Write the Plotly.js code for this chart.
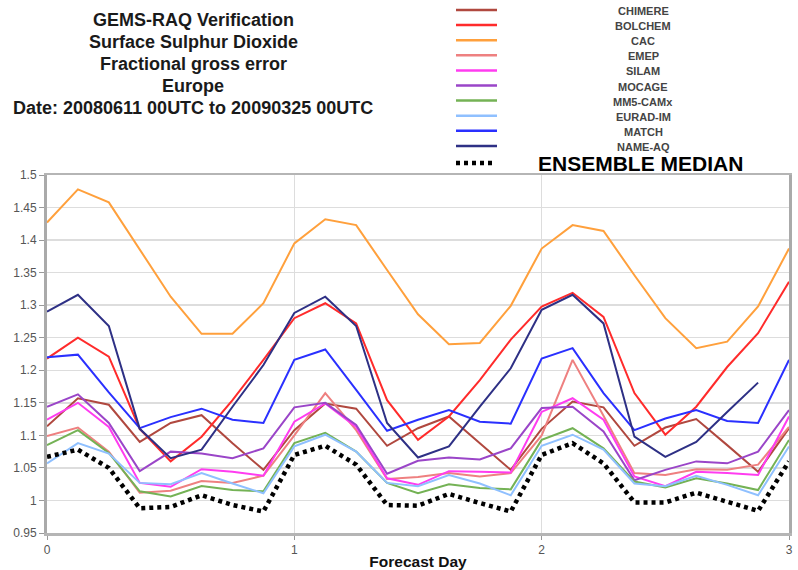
<!DOCTYPE html>
<html>
<head>
<meta charset="utf-8">
<script src="https://cdn.plot.ly/plotly-3.0.1.min.js"></script>
<style>
  html, body { margin: 0; padding: 0; background: #ffffff; }
  #chart { width: 798px; height: 570px; }
</style>
</head>
<body>
<div id="chart"></div>
<script>
// Forecast lead time in days (3-hourly steps)
const forecastDay = [0, 0.125, 0.25, 0.375, 0.5, 0.625, 0.75, 0.875,
                     1, 1.125, 1.25, 1.375, 1.5, 1.625, 1.75, 1.875,
                     2, 2.125, 2.25, 2.375, 2.5, 2.625, 2.75, 2.875, 3];

// Fractional gross error per model
const chimere = [1.114, 1.157, 1.147, 1.090, 1.119, 1.131, 1.088, 1.047,
                 1.108, 1.149, 1.141, 1.084, 1.111, 1.129, 1.088, 1.047,
                 1.110, 1.152, 1.143, 1.084, 1.112, 1.125, 1.085, 1.044, 1.111];
const bolchem = [1.218, 1.250, 1.221, 1.110, 1.060, 1.098, 1.154, 1.216,
                 1.280, 1.303, 1.272, 1.154, 1.093, 1.129, 1.185, 1.247,
                 1.298, 1.319, 1.282, 1.165, 1.101, 1.144, 1.205, 1.257, 1.336];
const cac     = [1.427, 1.478, 1.458, 1.385, 1.313, 1.256, 1.256, 1.303,
                 1.395, 1.432, 1.423, 1.354, 1.286, 1.240, 1.242, 1.299,
                 1.387, 1.423, 1.414, 1.346, 1.280, 1.234, 1.244, 1.298, 1.387];
const emep    = [1.099, 1.112, 1.075, 1.012, 1.015, 1.030, 1.027, 1.038,
                 1.100, 1.165, 1.108, 1.033, 1.036, 1.042, 1.037, 1.042,
                 1.100, 1.216, 1.130, 1.042, 1.039, 1.048, 1.047, 1.055, 1.113];
const silam   = [1.124, 1.150, 1.113, 1.027, 1.021, 1.048, 1.044, 1.038,
                 1.121, 1.149, 1.113, 1.034, 1.024, 1.045, 1.044, 1.043,
                 1.136, 1.157, 1.124, 1.037, 1.022, 1.044, 1.042, 1.039, 1.129];
const mocage  = [1.144, 1.163, 1.119, 1.045, 1.075, 1.072, 1.065, 1.080,
                 1.143, 1.150, 1.116, 1.041, 1.061, 1.066, 1.063, 1.080,
                 1.142, 1.144, 1.106, 1.031, 1.047, 1.060, 1.057, 1.075, 1.139];
const mm5camx = [1.085, 1.108, 1.073, 1.014, 1.006, 1.022, 1.016, 1.014,
                 1.088, 1.104, 1.075, 1.027, 1.011, 1.025, 1.019, 1.017,
                 1.093, 1.111, 1.080, 1.029, 1.020, 1.034, 1.026, 1.016, 1.093];
const euradim = [1.057, 1.088, 1.072, 1.027, 1.025, 1.042, 1.026, 1.011,
                 1.083, 1.101, 1.075, 1.027, 1.022, 1.039, 1.026, 1.008,
                 1.084, 1.101, 1.078, 1.026, 1.022, 1.038, 1.024, 1.008, 1.083];
const match   = [1.220, 1.224, 1.166, 1.111, 1.128, 1.141, 1.124, 1.119,
                 1.216, 1.232, 1.170, 1.107, 1.124, 1.139, 1.121, 1.118,
                 1.218, 1.234, 1.165, 1.108, 1.126, 1.139, 1.122, 1.119, 1.216];
const nameaq  = [1.290, 1.316, 1.268, 1.110, 1.065, 1.078, 1.144, 1.208,
                 1.288, 1.313, 1.268, 1.119, 1.066, 1.083, 1.144, 1.203,
                 1.293, 1.316, 1.272, 1.098, 1.067, 1.090, 1.136, 1.181];
const ensembleMedian = [1.067, 1.078, 1.050, 0.988, 0.990, 1.008, 0.993, 0.983,
                        1.070, 1.084, 1.055, 0.993, 0.992, 1.010, 0.996, 0.983,
                        1.070, 1.088, 1.057, 0.997, 0.997, 1.012, 0.998, 0.984, 1.060];

const modelNames  = ['CHIMERE', 'BOLCHEM', 'CAC', 'EMEP', 'SILAM', 'MOCAGE',
                     'MM5-CAMx', 'EURAD-IM', 'MATCH', 'NAME-AQ'];
const modelValues = [chimere, bolchem, cac, emep, silam, mocage,
                     mm5camx, euradim, match, nameaq];
const modelColors = ['#b0483f', '#ff2b2b', '#ffa03c', '#ee8080', '#ff3cf0',
                     '#9a45c8', '#74b255', '#8fc0ff', '#2a30ff', '#2e3085'];
const medianName = 'ENSEMBLE MEDIAN';

const titleLines = ['GEMS-RAQ Verification', 'Surface Sulphur Dioxide',
                    'Fractional gross error', 'Europe',
                    'Date: 20080611 00UTC to 20090325 00UTC'];

const yTickVals  = [0.95, 1, 1.05, 1.1, 1.15, 1.2, 1.25, 1.3, 1.35, 1.4, 1.45, 1.5];
const yTickText  = ['0.95', '1', '1.05', '1.1', '1.15', '1.2', '1.25', '1.3', '1.35', '1.4', '1.45', '1.5'];
const xTickVals  = [0, 1, 2, 3];

const FONT = 'Liberation Sans, Arial, Helvetica, sans-serif';

// Plot area geometry (pixels) used to place the hand-made key in paper units
const W = 798, H = 570;
const M = { l: 47, r: 9, t: 175, b: 37 };
const pw = W - M.l - M.r, ph = H - M.t - M.b;
const px = v => (v - M.l) / pw;
const py = v => (H - M.b - v) / ph;

const traces = modelNames.map((name, i) => ({
  type: 'scatter', mode: 'lines', name: name,
  x: forecastDay.slice(0, modelValues[i].length),
  y: modelValues[i],
  line: { color: modelColors[i], width: 2 },
  hoverinfo: 'x+y+name'
}));
traces.push({
  type: 'scatter', mode: 'lines', name: medianName,
  x: forecastDay, y: ensembleMedian,
  line: { color: '#000000', width: 4.5, dash: '4px,4px' }
});

const shapes = [];
const annotations = [];

// Title block, one line per annotation
titleLines.forEach((t, i) => {
  annotations.push({
    xref: 'paper', yref: 'paper', x: px(193), y: py(20 + i * 22),
    xanchor: 'center', yanchor: 'middle', showarrow: false,
    text: '<b>' + t + '</b>',
    font: { family: FONT, size: 18, color: '#1a1a1a' }
  });
});

// Key: line sample plus centred label for each model
modelNames.forEach((name, i) => {
  const yy = 10 + i * 15.1;
  shapes.push({
    type: 'line', xref: 'paper', yref: 'paper',
    x0: px(456), x1: px(497), y0: py(yy), y1: py(yy),
    line: { color: modelColors[i], width: 2.5 }
  });
  annotations.push({
    xref: 'paper', yref: 'paper', x: px(643), y: py(yy + 1),
    xanchor: 'center', yanchor: 'middle', showarrow: false,
    text: '<b>' + name + '</b>',
    font: { family: FONT, size: 11, color: '#444' }
  });
});
shapes.push({
  type: 'line', xref: 'paper', yref: 'paper',
  x0: px(456), x1: px(494), y0: py(163), y1: py(163),
  line: { color: '#000', width: 4.5, dash: '4px,4px' }
});
annotations.push({
  xref: 'paper', yref: 'paper', x: px(640), y: py(164),
  xanchor: 'center', yanchor: 'middle', showarrow: false,
  text: '<b>' + medianName + '</b>',
  font: { family: FONT, size: 21, color: '#000' }
});

const layout = {
  width: W, height: H,
  margin: M,
  paper_bgcolor: '#ffffff', plot_bgcolor: '#ffffff',
  showlegend: false,
  font: { family: FONT, color: '#555' },
  xaxis: {
    range: [0, 3], tickvals: xTickVals, ticks: 'outside', ticklen: 4,
    tickcolor: '#999', showgrid: true, gridcolor: '#dddddd', gridwidth: 1.5,
    showline: true, linecolor: '#b5b5b5', linewidth: 2.5, mirror: true,
    zeroline: false, tickfont: { size: 12, color: '#555' },
    title: { text: '<b>Forecast Day</b>', font: { size: 15.5, color: '#111' }, standoff: 2 }
  },
  yaxis: {
    range: [0.95, 1.5], tickvals: yTickVals, ticktext: yTickText,
    ticks: 'outside', ticklen: 5, tickcolor: '#999',
    showgrid: true, gridcolor: '#dddddd', gridwidth: 1.5,
    showline: true, linecolor: '#aaaaaa', linewidth: 3, mirror: true,
    zeroline: false, tickfont: { size: 12, color: '#555' }
  },
  shapes: shapes,
  annotations: annotations
};

Plotly.newPlot('chart', traces, layout, { displayModeBar: false, staticPlot: true });
</script>
</body>
</html>
